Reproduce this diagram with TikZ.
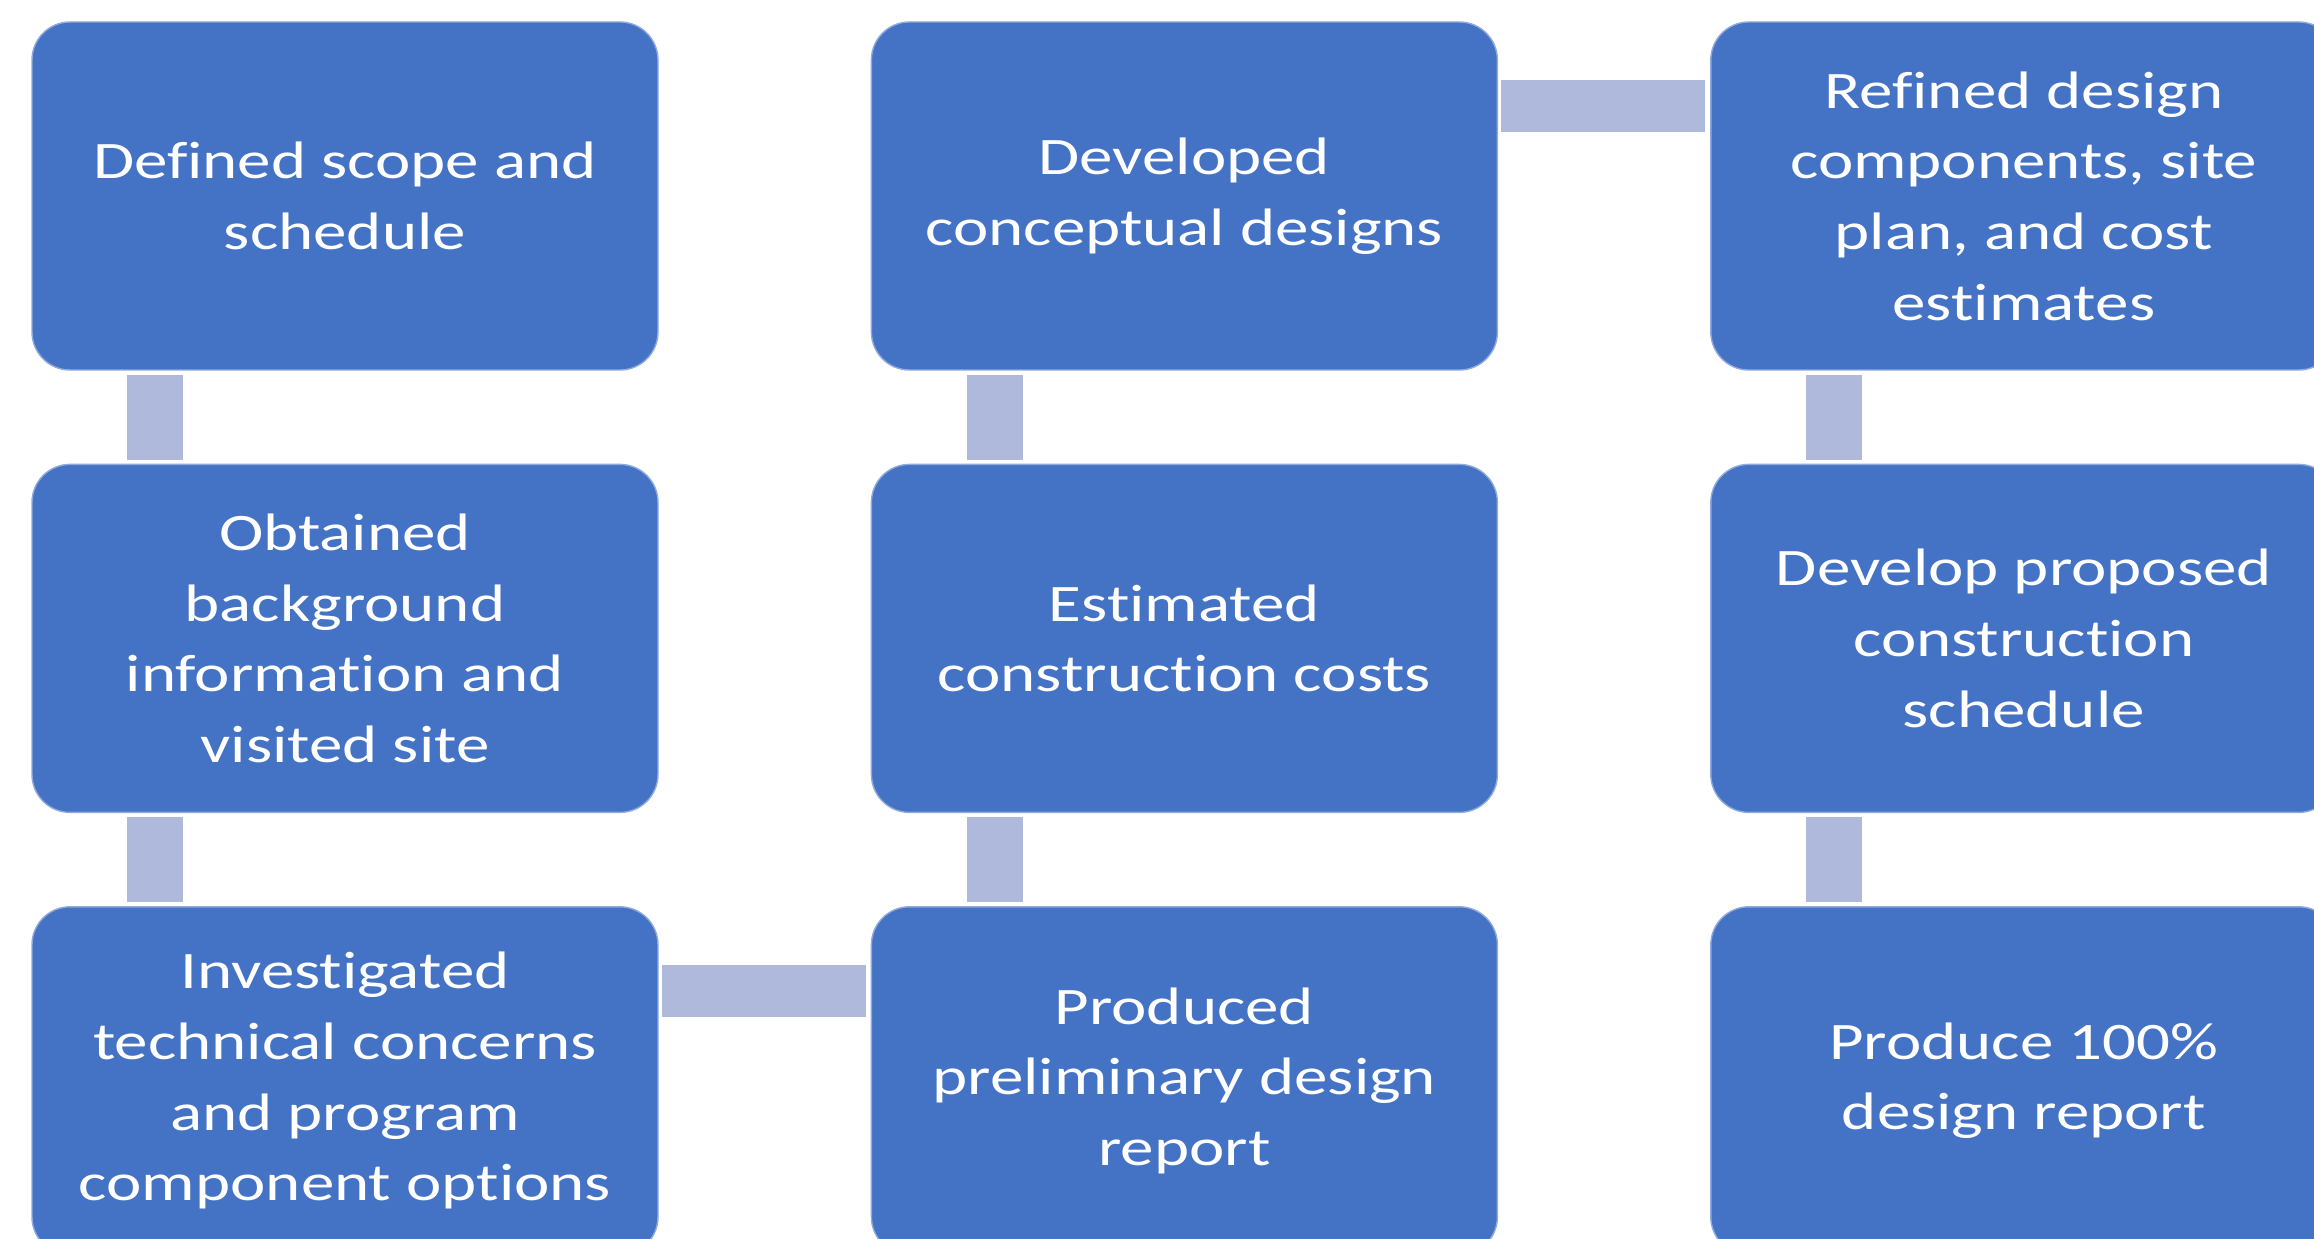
\documentclass[tikz,border=0pt]{standalone}
\usepackage{fontspec}
\setmainfont{Carlito}[FakeStretch=1.27, Ligatures=NoCommon]
\usetikzlibrary{positioning}
\definecolor{boxblue}{HTML}{4472C4}
\definecolor{barblue}{HTML}{AEB9DC}
\tikzset{
	stepbox/.style={rectangle, rounded corners=0.38cm, fill=boxblue, draw=boxblue!60!white, line width=0.4pt, text=white, align=center, inner sep=0pt, minimum width=6.26cm, minimum height=3.48cm, font=\fontsize{15}{20.1}\selectfont},
	vbar/.style={draw=barblue, line width=0.56cm, shorten <=0.04cm, shorten >=0.04cm},
	hbar/.style={draw=barblue, line width=0.52cm, shorten <=0.03cm, shorten >=0.05cm},
}
\begin{document}
\begin{tikzpicture}
			\useasboundingbox (0,0) rectangle (23.14,-12.39);
			
			\node (def) [stepbox] at (3.45,-1.96) {Defined scope and\\schedule};
			\node (obt) [stepbox, below=0.93cm of def] {Obtained\\background\\information and\\visited site};
			\node (inv) [stepbox, below=0.93cm of obt] {Investigated\\technical concerns\\and program\\component options};
			
			\node (pre) [stepbox, right=2.12cm of inv] {Produced\\preliminary design\\report};
			\node (est) [stepbox, above=0.93cm of pre] {Estimated\\construction costs};
			\node (dev) [stepbox, above=0.93cm of est] {Developed\\conceptual designs};
			
			\node (ref) [stepbox, right=2.12cm of dev] {Refined design\\components, site\\plan, and cost\\estimates};
			\node (sch) [stepbox, below=0.93cm of ref] {Develop proposed\\construction\\schedule};
			\node (rep) [stepbox, below=0.93cm of sch] {Produce 100\%\\design report};
			
			\begin{scope}
				\draw[vbar] ([xshift=1.24cm]def.south west) -- ([xshift=1.24cm]obt.north west);
				\draw[vbar] ([xshift=1.24cm]obt.south west) -- ([xshift=1.24cm]inv.north west);
				\draw[hbar] ([yshift=-0.845cm]inv.north east) -- ([yshift=-0.845cm]pre.north west);
				\draw[vbar] ([xshift=1.24cm]pre.north west) -- ([xshift=1.24cm]est.south west);
				\draw[vbar] ([xshift=1.24cm]est.north west) -- ([xshift=1.24cm]dev.south west);
				\draw[hbar] ([yshift=-0.845cm]dev.north east) -- ([yshift=-0.845cm]ref.north west);
				\draw[vbar] ([xshift=1.24cm]ref.south west) -- ([xshift=1.24cm]sch.north west);
				\draw[vbar] ([xshift=1.24cm]sch.south west) -- ([xshift=1.24cm]rep.north west);
			\end{scope}
			
		\end{tikzpicture}
\end{document}
